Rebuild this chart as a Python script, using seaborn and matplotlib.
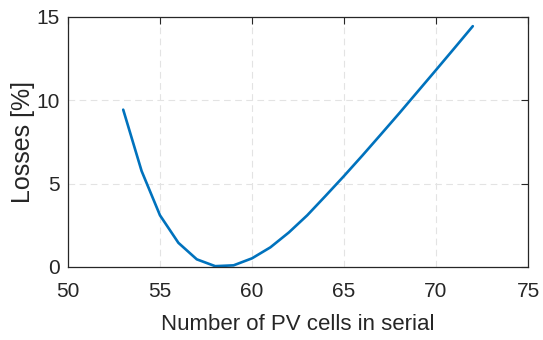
import numpy as np
import pandas as pd
import matplotlib
matplotlib.use("Agg")
import matplotlib.pyplot as plt
import seaborn as sns

# number of series cells vs. losses
n_cells = [53, 54, 55, 56, 57, 58, 59, 60, 61, 62, 63, 64, 65, 66, 67, 68, 69, 70, 71, 72]
losses = [9.44, 5.76, 3.10, 1.45, 0.46, 0.05, 0.10, 0.52, 1.18, 2.07, 3.10, 4.27,
          5.46, 6.69, 7.95, 9.22, 10.52, 11.82, 13.13, 14.45]

df = pd.DataFrame({"cells": n_cells, "losses": losses})

sns.set_style("white")
plt.rcParams['font.family'] = ['Liberation Sans', 'DejaVu Sans']

fig = plt.figure(figsize=(5.43, 3.4), dpi=100)
ax = fig.add_axes([68 / 543, 73 / 340, 460 / 543, 250 / 340])

sns.lineplot(data=df, x="cells", y="losses", ax=ax, color="#0072BD", linewidth=1.9)

ax.set_xlim(50, 75)
ax.set_ylim(0, 15)
ax.set_xticks([50, 55, 60, 65, 70, 75])
ax.set_yticks([0, 5, 10, 15])
ax.grid(True, color="#e3e3e3", linestyle=(0, (6, 4)), linewidth=0.8)
ax.set_axisbelow(True)

ax.tick_params(direction="in", top=True, right=True, length=5, width=0.8,
               color="#262626", labelsize=15, labelcolor="#262626")
ax.tick_params(axis="x", pad=11)
ax.tick_params(axis="y", pad=6)
for s in ax.spines.values():
    s.set_color("#262626")
    s.set_linewidth(0.9)

ax.set_xlabel("Number of PV cells in serial", fontsize=16, color="#262626", labelpad=9)
ax.set_ylabel("Losses [%]", fontsize=18, color="#262626", labelpad=1)

fig.savefig("out.png", dpi=100)
